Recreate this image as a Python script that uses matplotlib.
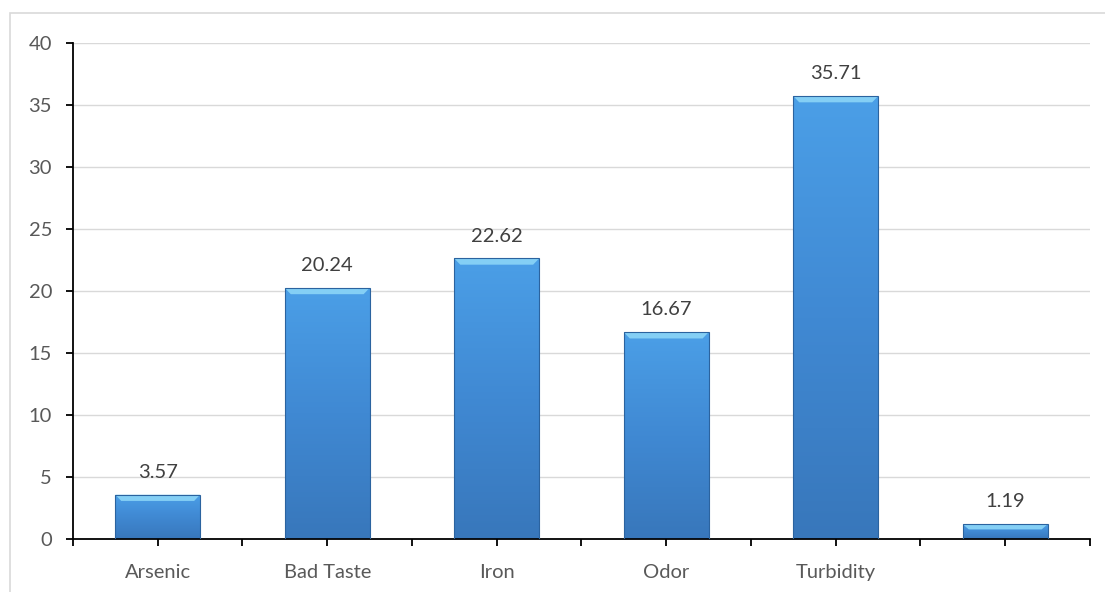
import numpy as np
import matplotlib.pyplot as plt
from matplotlib.colors import LinearSegmentedColormap
from matplotlib.patches import Rectangle, Polygon

# Water quality problems (%)
categories = ['Arsenic', 'Bad Taste', 'Iron', 'Odor', 'Turbidity', '']
values = [3.57, 20.24, 22.62, 16.67, 35.71, 1.19]
yticks = [0, 5, 10, 15, 20, 25, 30, 35, 40]

plt.rcParams['font.family'] = ['Lato', 'DejaVu Sans']

fig = plt.figure(figsize=(11.05, 5.92), dpi=100)
ax = fig.add_axes([0.066, 0.0895, 0.9204, 0.838])

# light frame around the chart area
frame = Rectangle((10 / 1105, -0.01), 1.02, 1 - 13 / 592 + 0.01, transform=fig.transFigure,
                  fill=False, edgecolor='#d9d9d9', linewidth=1.2, clip_on=False)
fig.patches.append(frame)

x = np.arange(len(categories))
width = 0.5
cmap = LinearSegmentedColormap.from_list('bar', ['#3877bb', '#4089d3', '#4b9fe7'])
grad = np.linspace(0, 1, 256).reshape(-1, 1)

ax.set_xlim(-0.5, len(categories) - 0.5)
ax.set_ylim(0, 40)

bars = ax.bar(x, values, width=width, color='none', edgecolor='#2b639f', linewidth=0.8, zorder=3)
for bar in bars:
    x0, h = bar.get_x(), bar.get_height()
    im = ax.imshow(grad, extent=[x0, x0 + width, 0, h], origin='lower', cmap=cmap,
                   aspect='auto', zorder=2)
    im.set_clip_path(bar)
    # top bevel highlight
    bx = 0.035
    by = min(0.5, h * 0.35)
    ax.add_patch(Polygon([[x0, h], [x0 + width, h], [x0 + width - bx, h - by], [x0 + bx, h - by]],
                         closed=True, facecolor='#84cff5', edgecolor='none', zorder=2.5))
    ax.annotate(f'{h:.2f}', (x0 + width / 2, h), xytext=(0, 10), textcoords='offset points',
                ha='center', va='bottom', fontsize=14.5, color='#404040')

ax.set_xlim(-0.5, len(categories) - 0.5)
ax.set_ylim(0, 40)
ax.set_yticks(yticks)
ax.set_xticks(x)
ax.set_xticklabels(categories)
ax.set_xticks(np.arange(-0.5, len(categories)), minor=True)
ax.yaxis.grid(True, color='#d9d9d9', linewidth=1)
ax.set_axisbelow(True)

for s in ['top', 'right']:
    ax.spines[s].set_visible(False)
ax.spines['left'].set_linewidth(1.3)
ax.spines['bottom'].set_linewidth(1.3)
ax.tick_params(axis='y', length=5, width=1.3, pad=10, labelsize=14.5, labelcolor='#595959')
ax.tick_params(axis='x', which='both', length=5, width=1.3, pad=13, labelsize=14.5, labelcolor='#595959')

fig.savefig('out.png', dpi=100)
